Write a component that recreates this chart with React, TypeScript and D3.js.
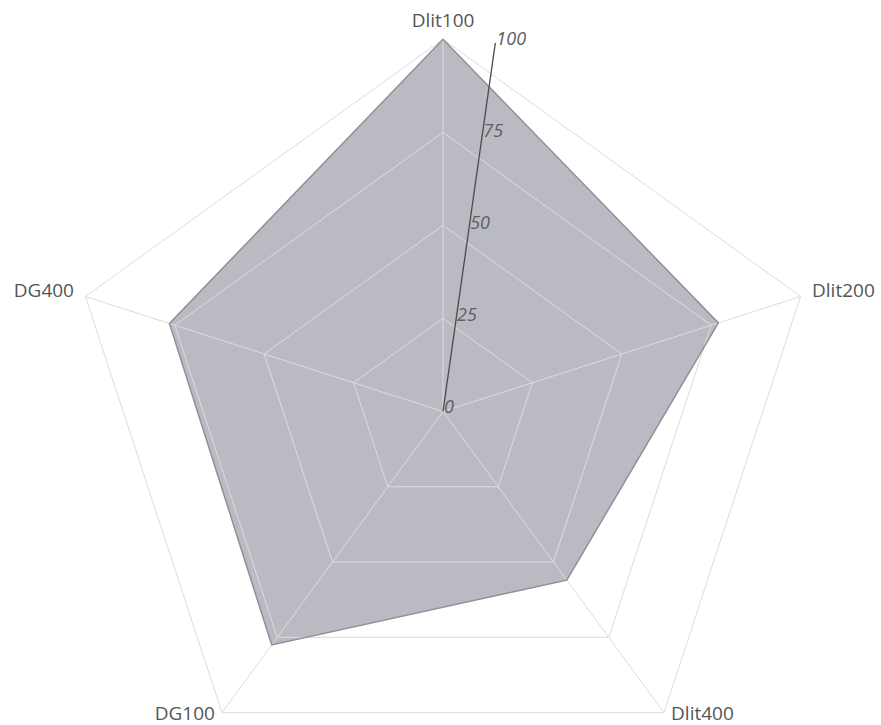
import React from "react";
import * as d3 from "d3";

const categories = ["Dlit100", "Dlit200", "Dlit400", "DG100", "DG400"];
const values = [100, 77, 56, 77.5, 76.5];
const radialTicks = [0, 25, 50, 75, 100];
const radialMax = 100;

const W = 881;
const H = 725;
const CX = 443;
const CY = 411.5;
const R = 376;
const KY = 0.99; // slight vertical compression seen in the reference
const AXIS_ANGLE_DEG = 82; // counter-clockwise from east

export default function App() {
  const r = d3.scaleLinear().domain([0, radialMax]).range([0, R]);
  const n = categories.length;
  const ang = d3.scaleLinear().domain([0, n]).range([0, 2 * Math.PI]);

  const pt = (i: number, v: number): [number, number] => {
    const a = ang(i);
    return [r(v) * Math.sin(a), -r(v) * Math.cos(a) * KY];
  };

  const poly = d3
    .line<[number, number]>()
    .x((d) => d[0])
    .y((d) => d[1])
    .curve(d3.curveLinearClosed);

  const gridPaths = radialTicks
    .filter((t) => t > 0)
    .map((t) => poly(categories.map((_, i) => pt(i, t))) as string);

  const dataPath = poly(values.map((v, i) => pt(i, v))) as string;

  const axRad = (AXIS_ANGLE_DEG * Math.PI) / 180;
  const axPt = (v: number) => [r(v) * Math.cos(axRad), -r(v) * Math.sin(axRad) * KY];

  const fontSize = 19;

  return (
    <svg
      width={W}
      height={H}
      style={{ position: "absolute", left: 0, top: 0, background: "#fff" }}
      fontFamily="'Open Sans', 'Noto Sans', sans-serif"
    >
      <rect x={0} y={0} width={W} height={H} fill="#ffffff" />
      <g transform={`translate(${CX},${CY})`}>
        <path d={dataPath} fill="#babbc2" stroke="none" />
        {gridPaths.map((d, i) => (
          <path key={i} d={d} fill="none" stroke="#dcdcdc" strokeWidth={1} />
        ))}
        {categories.map((c, i) => {
          const [x, y] = pt(i, radialMax);
          return <line key={c} x1={0} y1={0} x2={x} y2={y} stroke="#dcdcdc" strokeWidth={1} />;
        })}
        <path d={dataPath} fill="none" stroke="#8f9098" strokeWidth={1.5} strokeLinejoin="miter" />
        {(() => {
          const [x2, y2] = axPt(radialMax);
          return <line x1={0} y1={0} x2={x2} y2={y2} stroke="#4a4a4a" strokeWidth={1.3} />;
        })()}
        {radialTicks.map((t) => {
          const [x, y] = axPt(t);
          return (
            <text
              key={t}
              x={x + 1}
              y={y - 3}
              dominantBaseline="middle"
              fontSize={18}
              fontStyle="italic"
              fill="#5e5e5e"
            >
              {t}
            </text>
          );
        })}
        {categories.map((c, i) => {
          const a = ang(i);
          const s = Math.sin(a);
          const co = Math.cos(a);
          const [vx, vy] = pt(i, radialMax);
          const px = vx + 12 * s;
          const py = vy - 12 * co;
          const anchor = s > 0.1 ? "start" : s < -0.1 ? "end" : "middle";
          const baseline = co >= 0 ? py + 0.35 * fontSize * (1 - co) : py - 2.5;
          return (
            <text key={c} x={px} y={baseline} textAnchor={anchor} fontSize={fontSize} fill="#555">
              {c}
            </text>
          );
        })}
      </g>
    </svg>
  );
}
